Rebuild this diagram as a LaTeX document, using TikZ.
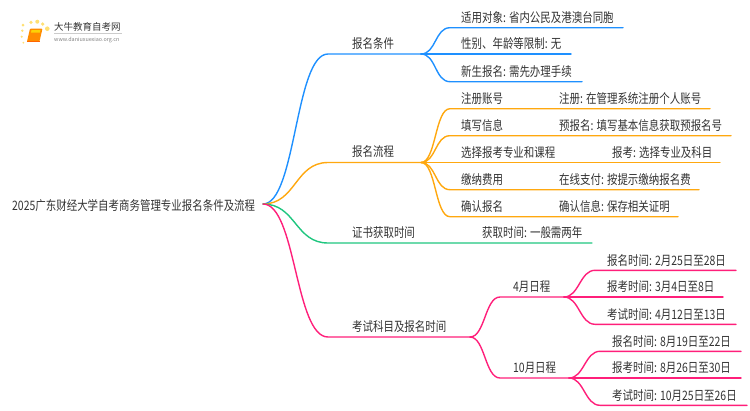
\documentclass[tikz,border=0pt]{standalone}
\usepackage{fontspec}
\setmainfont{Noto Sans CJK SC}
\usetikzlibrary{positioning}
\definecolor{bluebr}{HTML}{1E90FF}
\definecolor{orangebr}{HTML}{FFA80F}
\definecolor{greenbr}{HTML}{1FC67F}
\definecolor{pinkbr}{HTML}{FF1F7A}
\definecolor{inkgray}{HTML}{333333}
\tikzset{
    lbl/.style={anchor=base west, inner sep=0pt, yshift=-0.4pt, transform shape, xscale=0.805, font=\fontsize{13}{14}\selectfont, text=inkgray},
    br/.style={line width=1.4pt, line cap=round},
    logodot/.style={fill=orange!45!yellow, opacity=0.55, draw=none},
}
\begin{document}
\begin{tikzpicture}[x=1pt, y=-1pt]
    \useasboundingbox (0,0) rectangle (750,410);

    % logo
    \foreach \px/\py/\pr in {23/25/1.5, 31/22.3/1.8, 37.3/21.7/2, 42.7/24/1.8, 47.3/28.7/2.3, 22.3/30.7/1.3, 21.7/36.7/1.2, 23.3/42.7/1}
        \fill[logodot] (\px,\py) circle (\pr);
    \fill[orange!90!yellow, rounded corners=1pt] (30,28.5) -- (42.5,28.5) -- (39.5,41.5) -- (27,41.5) -- cycle;
    \fill[yellow!70!orange] (31.5,30) -- (40.5,30) -- (39.8,32.5) -- (31,32.5) -- cycle;
    \draw[orange!80!red, line width=0.8pt] (27,41.5) -- (39.5,41.5);
    \node (logotitle) [anchor=base west, inner sep=0pt, text=inkgray, font=\fontsize{9.5}{10}\selectfont] at (54,30.5) {大牛教育自考网};
    \draw[gray!40, line width=0.5pt] (54,33.5) -- (122,33.5);
    \node (logourl) [anchor=base west, inner sep=0pt, text=gray, font=\fontsize{5.4}{6}\selectfont] at (54,41) {www.daniuxuexiao.org.cn};

    % root
    \node (root) [lbl] at (12,210.5) {2025广东财经大学自考商务管理专业报名条件及流程};
    \coordinate (rootout) at (263,204);

    % branches
    \node (cond) [lbl] at (352,48.5) {报名条件};
    \node (proc) [lbl] at (352,156.5) {报名流程};
    \node (cert) [lbl] at (352,237.5) {证书获取时间};
    \node (exam) [lbl] at (352,331.5) {考试科目及报名时间};
    \coordinate (condin) at (328,54);
    \coordinate (condout) at (421,54);
    \coordinate (procin) at (328,162.5);
    \coordinate (procout) at (421,162.5);
    \coordinate (certin) at (328,243);
    \coordinate (certout) at (592,243);
    \coordinate (examin) at (328,337);
    \coordinate (examout) at (470,337);
    \draw[br, bluebr] (rootout) .. controls +(33,0) and +(-33,0) .. (condin) -- (condout);
    \draw[br, orangebr] (rootout) .. controls +(33,0) and +(-33,0) .. (procin) -- (procout);
    \draw[br, greenbr] (rootout) .. controls +(33,0) and +(-33,0) .. (certin) -- (certout);
    \draw[br, pinkbr] (rootout) .. controls +(33,0) and +(-33,0) .. (examin) -- (examout);

    % conditions
    \node (who) [lbl] at (461,22) {适用对象: 省内公民及港澳台同胞};
    \node (limit) [lbl] at (461,48.5) {性别、年龄等限制: 无};
    \node (fresh) [lbl] at (461,76) {新生报名: 需先办理手续};
    \coordinate (whoin) at (450,27.7);
    \coordinate (whoout) at (623,27.7);
    \coordinate (limitout) at (571,54);
    \coordinate (freshin) at (450,81.7);
    \coordinate (freshout) at (582,81.7);
    \draw[br, bluebr] (condout) .. controls +(15,0) and +(-15,0) .. (whoin) -- (whoout);
    \draw[br, bluebr] (condout) -- (limitout);
    \draw[br, bluebr] (condout) .. controls +(15,0) and +(-15,0) .. (freshin) -- (freshout);

    % process
    \node (acc) [lbl] at (461,103) {注册账号};
    \node (acctxt) [lbl] at (559,103) {注册: 在管理系统注册个人账号};
    \node (fill) [lbl] at (461,130) {填写信息};
    \node (filltxt) [lbl] at (559,130) {预报名: 填写基本信息获取预报名号};
    \node (pick) [lbl] at (461,157) {选择报考专业和课程};
    \node (picktxt) [lbl] at (612,157) {报考: 选择专业及科目};
    \node (pay) [lbl] at (461,184) {缴纳费用};
    \node (paytxt) [lbl] at (559,184) {在线支付: 按提示缴纳报名费};
    \node (conf) [lbl] at (461,211) {确认报名};
    \node (conftxt) [lbl] at (559,211) {确认信息: 保存相关证明};
    \coordinate (accin) at (450,108.7);
    \coordinate (accout) at (710,108.7);
    \coordinate (fillin) at (450,135.7);
    \coordinate (fillout) at (731,135.7);
    \coordinate (pickout) at (720,162.5);
    \coordinate (payin) at (450,189.7);
    \coordinate (payout) at (699,189.7);
    \coordinate (confin) at (450,216.7);
    \coordinate (confout) at (678,216.7);
    \draw[br, orangebr] (procout) .. controls +(15,0) and +(-15,0) .. (accin) -- (accout);
    \draw[br, orangebr] (procout) .. controls +(15,0) and +(-15,0) .. (fillin) -- (fillout);
    \draw[br, orangebr] (procout) -- (pickout);
    \draw[br, orangebr] (procout) .. controls +(15,0) and +(-15,0) .. (payin) -- (payout);
    \draw[br, orangebr] (procout) .. controls +(15,0) and +(-15,0) .. (confin) -- (confout);

    % certificate
    \node (certtxt) [lbl] at (482,237.5) {获取时间: 一般需两年};

    % exam dates
    \node (apr) [lbl] at (513,291.5) {4月日程};
    \node (oct) [lbl] at (513,372.5) {10月日程};
    \coordinate (aprin) at (500,297);
    \coordinate (aprout) at (564,297);
    \coordinate (octin) at (500,378);
    \coordinate (octout) at (569,378);
    \draw[br, pinkbr] (examout) .. controls +(15,0) and +(-15,0) .. (aprin) -- (aprout);
    \draw[br, pinkbr] (examout) .. controls +(15,0) and +(-15,0) .. (octin) -- (octout);

    \node (apra) [lbl] at (607,265) {报名时间: 2月25日至28日};
    \node (aprb) [lbl] at (607,291.5) {报考时间: 3月4日至8日};
    \node (aprc) [lbl] at (607,319) {考试时间: 4月12日至13日};
    \coordinate (apraL) at (595,270.3);
    \coordinate (apraR) at (736,270.3);
    \coordinate (aprbR) at (723,297);
    \coordinate (aprcL) at (595,324.3);
    \coordinate (aprcR) at (736,324.3);
    \draw[br, pinkbr] (aprout) .. controls +(15,0) and +(-15,0) .. (apraL) -- (apraR);
    \draw[br, pinkbr] (aprout) -- (aprbR);
    \draw[br, pinkbr] (aprout) .. controls +(15,0) and +(-15,0) .. (aprcL) -- (aprcR);

    \node (octa) [lbl] at (612,346) {报名时间: 8月19日至22日};
    \node (octb) [lbl] at (612,372.5) {报考时间: 8月26日至30日};
    \node (octc) [lbl] at (612,400) {考试时间: 10月25日至26日};
    \coordinate (octaL) at (600,351.3);
    \coordinate (octaR) at (741,351.3);
    \coordinate (octbR) at (741,378);
    \coordinate (octcL) at (600,405.3);
    \coordinate (octcR) at (747,405.3);
    \draw[br, pinkbr] (octout) .. controls +(15,0) and +(-15,0) .. (octaL) -- (octaR);
    \draw[br, pinkbr] (octout) -- (octbR);
    \draw[br, pinkbr] (octout) .. controls +(15,0) and +(-15,0) .. (octcL) -- (octcR);
\end{tikzpicture}
\end{document}
